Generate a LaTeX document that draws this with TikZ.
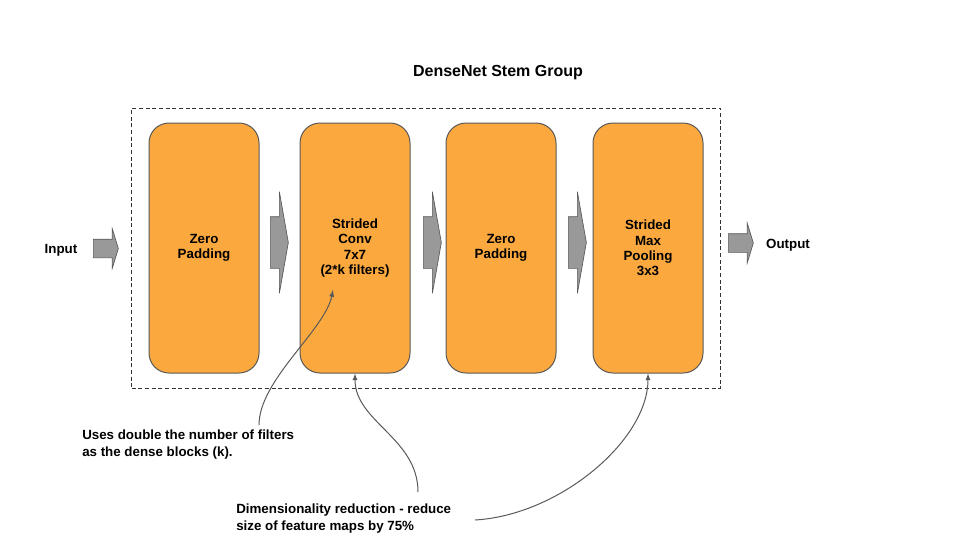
\documentclass[tikz,border=0pt]{standalone}
\usepackage{fontspec}
\setmainfont{Liberation Sans}
\usetikzlibrary{shapes.arrows,arrows,fit,positioning}
\definecolor{stemorange}{HTML}{FBA83F}
\definecolor{stemgray}{HTML}{999999}
\definecolor{stemline}{HTML}{595959}
\tikzset
{
    layer/.style = {rectangle, rounded corners=15pt, draw=stemline, fill=stemorange, line width=0.75pt, align=center, minimum width=82.5pt, minimum height=187.5pt, font=\bfseries\fontsize{10}{11.6}\selectfont},
    flowarrow/.style = {single arrow, draw=stemline, fill=stemgray, line width=0.5pt, inner xsep=0pt, inner ysep=19.125pt, anchor=tail, minimum height=13.5pt, minimum width=75.75pt, single arrow head extend=18.75pt, single arrow tip angle=160},
    ioarrow/.style = {single arrow, draw=stemline, fill=stemgray, line width=0.5pt, inner xsep=0pt, inner ysep=6.75pt, anchor=tail, minimum height=18.75pt, minimum width=29.25pt, single arrow head extend=7.875pt, single arrow tip angle=146},
    annot/.style = {inner sep=0pt, align=left, anchor=north west, font=\bfseries\fontsize{10}{12.75}\selectfont},
    callout/.style = {draw=stemline, line width=0.75pt, -latex}
}
\begin{document}
\begin{tikzpicture}[x=0.75pt, y=-0.75pt]
\useasboundingbox (0,0) rectangle (960,540);
\node[font=\bfseries\fontsize{12}{14}\selectfont] (title) at (498,73) {DenseNet Stem Group};
% stem layers
\node[layer] (zp1) at (204,248) {Zero\\Padding};
\node[layer] (conv) at (355,248) {Strided\\Conv\\7x7\\(2*k filters)};
\node[layer] (zp2) at (501,248) {Zero\\Padding};
\node[layer] (pool) at (648,248) {Strided\\Max\\Pooling\\3x3};
\node[draw=black!80, dash pattern=on 3pt off 2pt, line width=0.5pt, inner xsep=12.75pt, inner ysep=10.9pt, fit=(zp1)(conv)(zp2)(pool)] (stem) {};
% flow arrows
\node[font=\bfseries\fontsize{10}{12}\selectfont] (input) at (61,250) {Input};
\node[ioarrow] (a0) at (93,248.5) {};
\node[flowarrow] (a1) at (270,242.5) {};
\node[flowarrow] (a2) at (423,242.5) {};
\node[flowarrow] (a3) at (568,242.5) {};
\node[ioarrow] (a4) at (728,243) {};
\node[font=\bfseries\fontsize{10}{12}\selectfont] (output) at (788,245) {Output};
% notes
\node[annot] (filters) at (82,430) {Uses double the number of filters\\as the dense blocks (k).};
\node[annot] (reduce) at (236,504) {Dimensionality reduction - reduce\\size of feature maps by 75\%};
\coordinate (filtersTop) at (259,425);
\coordinate (convTip) at (333,290);
\coordinate (reduceTop) at (418,492);
\coordinate (reduceEnd) at (475,520);
\draw[callout] (filtersTop) .. controls (259,380) and (325,330) .. (convTip);
\draw[callout] (reduceTop) .. controls (418,438) and (355,422) .. (conv.south);
\draw[callout] (reduceEnd) .. controls (560,515) and (648,440) .. (pool.south);
\end{tikzpicture}
\end{document}
